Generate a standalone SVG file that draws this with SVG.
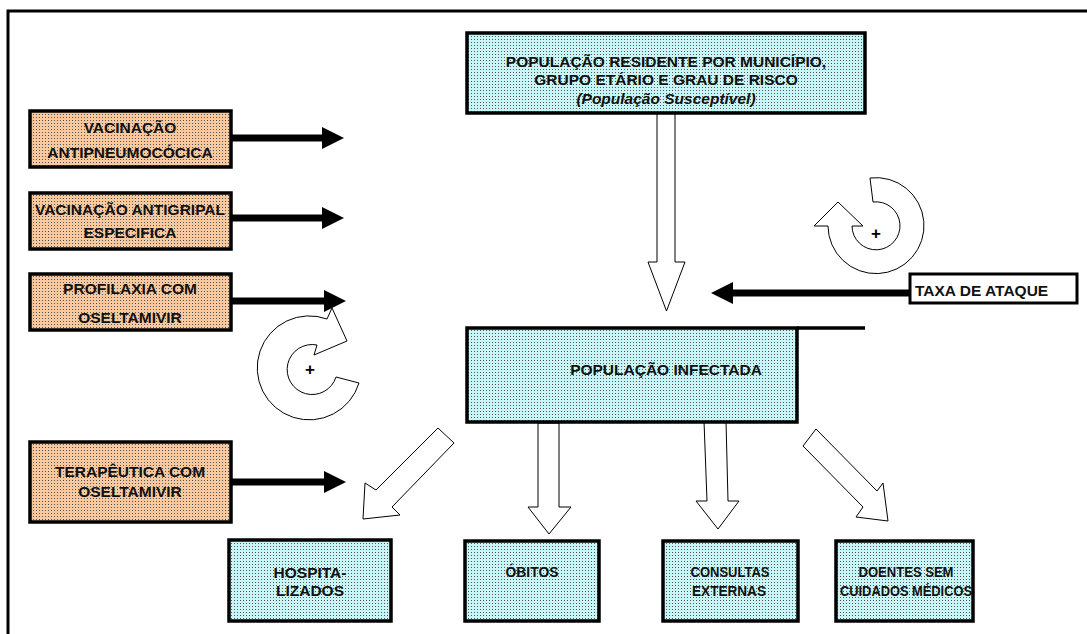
<svg xmlns="http://www.w3.org/2000/svg" width="1087" height="634" viewBox="0 0 1087 634">
<style>
.box{stroke:#000;stroke-width:3.5}
.cy{fill:url(#pc)}
.or{fill:url(#po)}
.t{font-family:"Liberation Sans",Arial,sans-serif;font-weight:bold;font-size:15.5px;fill:#111;text-anchor:middle}
.ts{font-size:14.5px}
.bar{stroke:#000;stroke-width:7;fill:none;marker-end:url(#ah)}
.hol{fill:#fff;stroke:#000;stroke-width:1}
.plus{font-family:"Liberation Sans",Arial,sans-serif;font-weight:bold;font-size:17px;fill:#000;text-anchor:middle}
</style>
<defs>
<pattern id="pc" width="3" height="3" patternUnits="userSpaceOnUse">
<rect width="3" height="3" fill="#c8f6f6"/>
<rect x="0" y="0" width="1" height="1" fill="#555"/>
</pattern>
<pattern id="po" width="3" height="3" patternUnits="userSpaceOnUse">
<rect width="3" height="3" fill="#f8c89e"/>
<rect x="0" y="0" width="1" height="1" fill="#555"/>
</pattern>
<marker id="ah" markerUnits="userSpaceOnUse" markerWidth="22" markerHeight="22" viewBox="0 0 21 21" refX="0" refY="10.5" orient="auto">
<path d="M0,0 L21,10.5 L0,21 Z" fill="#000"/>
</marker>
</defs>
<rect width="1087" height="634" fill="#fff"/>
<rect x="8" y="11" width="1100" height="700" fill="none" stroke="#000" stroke-width="3"/>

<g id="connectors">
<line class="bar" x1="231" y1="138" x2="322" y2="138"/>
<line class="bar" x1="231" y1="218" x2="322" y2="218"/>
<line class="bar" x1="231" y1="301" x2="324" y2="301"/>
<line class="bar" x1="231" y1="482" x2="324" y2="482"/>
<line class="bar" x1="910" y1="293" x2="733" y2="293"/>
<polygon class="hol" points="657,113 675,113 675,262 685,262 666.5,311 648,262 657,262"/>
<polygon class="hol" points="538,423 559,423 559,507 571,507 549,534 528,507 538,507"/>
<polygon class="hol" points="704,421 726,421 728,501 739,501 718,529 696,501 707,501"/>
<polygon class="hol" points="816,429 877,491 883,483 888,521 856,517 863,507 803,446"/>
<polygon class="hol" points="438,428 376,490 365,483 363,519 400,515 392,507 454,443"/>
<path class="hol" d="M359,383 A52,52 0 1 1 327,319 L332,308 L347,341 L314,355 L317,345 A25,25 0 1 0 336,377 Z"/>
<text class="plus" x="310" y="375">+</text>
<path class="hol" d="M870,178 A48,48 0 1 1 828,226 L814,226 L838,202 L863,226 L852,226 A24,24 0 1 0 873,202 Z"/>
<text class="plus" x="876" y="239">+</text>
</g>

<g id="n-populacao-residente">
<rect class="box cy" x="467" y="33" width="398" height="80"/>
<text class="t" x="666" y="67">POPULAÇÃO RESIDENTE POR MUNICÍPIO,</text>
<text class="t" x="666" y="85">GRUPO ETÁRIO E GRAU DE RISCO</text>
<text class="t" x="666" y="104" font-style="italic">(População Susceptível)</text>
</g>

<g id="n-vacinacao-antipneumococica">
<rect class="box or" x="30" y="111" width="201" height="56"/>
<text class="t" x="130" y="133">VACINAÇÃO</text>
<text class="t" x="130" y="158">ANTIPNEUMOCÓCICA</text>
</g>

<g id="n-vacinacao-antigripal">
<rect class="box or" x="30" y="193" width="201" height="56"/>
<text class="t" x="130" y="215">VACINAÇÃO ANTIGRIPAL</text>
<text class="t" x="130" y="238">ESPECIFICA</text>
</g>

<g id="n-profilaxia">
<rect class="box or" x="30" y="274" width="201" height="56"/>
<text class="t" x="130" y="294">PROFILAXIA COM</text>
<text class="t" x="130" y="323">OSELTAMIVIR</text>
</g>

<g id="n-terapeutica">
<rect class="box or" x="30" y="442" width="201" height="80"/>
<text class="t" x="130" y="477">TERAPÊUTICA COM</text>
<text class="t" x="130" y="497">OSELTAMIVIR</text>
</g>

<g id="n-taxa-ataque">
<rect x="910" y="274" width="167" height="29" fill="#fff" stroke="#000" stroke-width="3"/>
<text class="t" x="915" y="296" style="text-anchor:start">TAXA DE ATAQUE</text>
</g>

<g id="n-populacao-infectada">
<rect class="box cy" x="467" y="328" width="330" height="94"/>
<line x1="797" y1="328" x2="865" y2="328" stroke="#000" stroke-width="3.5"/>
<text class="t" x="666" y="375">POPULAÇÃO INFECTADA</text>
</g>

<g id="n-hospitalizados">
<rect class="box cy" x="229" y="540" width="162" height="81"/>
<text class="t" x="310" y="578">HOSPITA-</text>
<text class="t" x="310" y="596">LIZADOS</text>
</g>

<g id="n-obitos">
<rect class="box cy" x="465" y="541" width="134" height="80"/>
<text class="t ts" x="532" y="577" textLength="53" lengthAdjust="spacingAndGlyphs">ÓBITOS</text>
</g>

<g id="n-consultas">
<rect class="box cy" x="663" y="541" width="135" height="80"/>
<text class="t ts" x="730" y="577" textLength="79" lengthAdjust="spacingAndGlyphs">CONSULTAS</text>
<text class="t ts" x="729" y="596" textLength="74" lengthAdjust="spacingAndGlyphs">EXTERNAS</text>
</g>

<g id="n-doentes">
<rect class="box cy" x="836" y="541" width="137" height="80"/>
<text class="t ts" x="906" y="577" textLength="95" lengthAdjust="spacingAndGlyphs">DOENTES SEM</text>
<text class="t ts" x="906" y="596" textLength="132" lengthAdjust="spacingAndGlyphs">CUIDADOS MÉDICOS</text>
</g>
</svg>
